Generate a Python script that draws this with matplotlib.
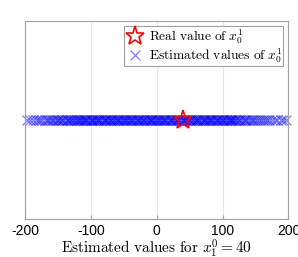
import matplotlib
matplotlib.use("Agg")
import matplotlib.pyplot as plt

real_value = 40
edge_left = [-197, -193, -188, -184, -181, -177, -174, -170, -167, -165, -162, -159,
             -157, -154, -152, -150, -148, -146, -144, -142]
dense = [-140, -137, -134, -131, -128, -125, -122, -119, -116, -113, -110, -107, -104,
         -101, -98, -95, -92, -89, -86, -83, -80, -77, -74, -71, -68, -65, -62, -59,
         -56, -53, -50, -47, -44, -41, -38, -35, -32, -29, -26, -23, -20, -17, -14,
         -11, -8, -5, -2, 1, 4, 7, 10, 13, 16, 19, 22, 25, 28, 31, 34, 37, 40, 43,
         46, 49, 52, 55, 58, 61, 64, 67, 70, 73, 76, 79, 82, 85, 88, 91, 94, 97, 100,
         103, 106, 109, 112, 115, 118, 121, 124, 127, 130]
dense2 = [-135.5, -130.5, -125.5, -120.5, -115.5, -110.5, -105.5, -100.5, -95.5, -90.5,
          -85.5, -80.5, -75.5, -70.5, -65.5, -60.5, -55.5, -50.5, -45.5, -40.5, -35.5,
          -30.5, -25.5, -20.5, -15.5, -10.5, -5.5, -0.5, 4.5, 9.5, 14.5, 19.5, 24.5,
          29.5, 34.5, 39.5, 44.5, 49.5, 54.5, 59.5, 64.5, 69.5, 74.5, 79.5, 84.5, 89.5,
          94.5, 99.5, 104.5, 109.5, 114.5, 119.5, 124.5]
dense3 = [-118.8, -108.8, -98.8, -88.8, -78.8, -68.8, -58.8, -48.8, -38.8, -28.8, -18.8,
          -8.8, 1.2, 11.2, 21.2, 31.2, 41.2, 51.2, 61.2, 71.2, 81.2, 91.2, 101.2, 111.2]
edge_right = [132, 134, 136, 139, 141, 144, 146, 149, 152, 155, 158, 161, 164, 167,
              171, 175, 179, 183, 188, 192, 196]
estimates = edge_left + dense + dense2 + dense3 + edge_right
xticks = [-200, -100, 0, 100, 200]

plt.rcParams['mathtext.fontset'] = 'cm'
plt.rcParams['axes.unicode_minus'] = False

fig = plt.figure(figsize=(2.98, 2.57), dpi=100)
ax = fig.add_axes([0.084, 0.146, 0.884, 0.772])

ax.plot(estimates, [1] * len(estimates), linestyle='none', marker='x', color='blue',
        markersize=7.5, markeredgewidth=0.9, alpha=0.5, clip_on=False,
        label=r'$\mathrm{Estimated\ values\ of\ } x_0^1$')
ax.plot([real_value], [1], linestyle='none', marker='*', markersize=14,
        markerfacecolor='none', markeredgecolor='red', markeredgewidth=1.2,
        label=r'$\mathrm{Real\ value\ of\ } x_0^1$')

ax.set_xlim(-200, 200)
ax.set_ylim(0, 2)
ax.set_xticks(xticks)
ax.set_xticklabels([str(t) for t in xticks], family='Liberation Sans', fontsize=10)
ax.set_yticks([])
ax.grid(axis='x', color='#e6e6e6', linewidth=0.8)
ax.set_axisbelow(True)
for s in ax.spines.values():
    s.set_color('#a0a0a0')
    s.set_linewidth(0.8)
ax.tick_params(axis='x', direction='in', length=3, color='#a0a0a0', pad=3)
ax.set_xlabel(r'$\mathrm{Estimated\ values\ for\ } x_1^0 = 40$', fontsize=11, labelpad=0)

h, l = ax.get_legend_handles_labels()
leg = ax.legend(h[::-1], l[::-1], loc='upper right', fontsize=9.7, fancybox=False,
                edgecolor='#a0a0a0', framealpha=1, borderaxespad=0.4,
                handletextpad=0.3, borderpad=0.05, labelspacing=0.0, handlelength=1.5)
leg.get_frame().set_linewidth(0.8)

fig.savefig('out.png', dpi=100)
